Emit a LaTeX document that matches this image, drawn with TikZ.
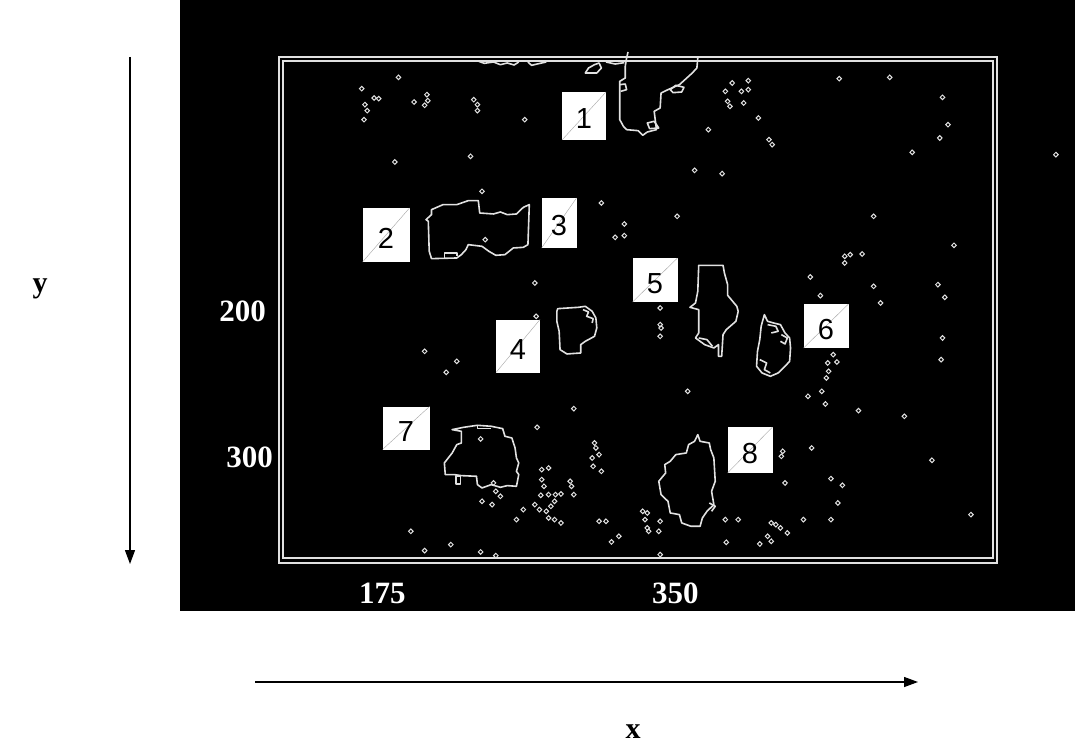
\documentclass[tikz,border=0pt]{standalone}
\usepackage{fontspec}
\setmainfont{Liberation Serif}
\newfontfamily\arialfont{Liberation Sans}
\usetikzlibrary{arrows.meta}
\definecolor{edgegrey}{RGB}{225,225,225}
\definecolor{diaggrey}{RGB}{165,165,165}
\tikzset{
  contour/.style={draw=edgegrey, line width=1.6pt, line join=round},
  framepen/.style={draw=edgegrey, line width=1.8pt},
  speck/.style={draw=edgegrey, line width=1pt},
  numbox/.style={fill=white, inner sep=0pt, text height=26pt, text depth=0pt,
    font=\arialfont\fontsize{29}{29}\selectfont,
    path picture={\draw[diaggrey, line width=0.4pt] (path picture bounding box.south west) -- (path picture bounding box.north east);}},
  ticklab/.style={text=white, font=\bfseries\fontsize{31}{31}\selectfont, inner sep=0pt},
  axislab/.style={font=\bfseries\fontsize{30}{30}\selectfont, inner sep=0pt},
  axisarrow/.style={line width=1.3pt, -{Triangle[length=14pt,width=10pt]}}
}
\begin{document}
\begin{tikzpicture}[x=1pt, y=-1pt]
\useasboundingbox (0,0) rectangle (1075,751);
\fill[black] (180,0) rectangle (1075,611);
% double frame of the image
\draw[framepen] (279,57) rectangle (997,563);
\draw[framepen] (283,61) rectangle (993,558);
% edge contours, traced on a 2.178 x 3 grid
\begin{scope}[shift={(280,58)}, x=0.4591pt, y=-0.3333pt]
% 1
\draw[contour] (758,-18) -- (755,0) -- (752,25) -- (752,60) -- (740,70) -- (740,185) -- (748,205)
  -- (755,215) -- (780,218) -- (790,232) -- (800,222) -- (820,215) -- (815,160) -- (828,150)
  -- (830,105) -- (845,95) -- (870,80) -- (898,45) -- (908,30) -- (910,0);
\draw[contour] (740,80) -- (752,78) -- (755,95) -- (742,100);
\draw[contour] (800,195) -- (815,190) -- (825,210) -- (805,212) -- cycle;
\draw[contour] (850,95) -- (862,82) -- (880,88) -- (875,102) -- (856,104) -- cycle;
\draw[contour] (433,10) -- (445,16) -- (465,12) -- (480,20) -- (495,15) -- (510,21) -- (520,12);
\draw[contour] (540,12) -- (548,22) -- (560,18) -- (580,12);
\draw[contour] (665,45) -- (672,30) -- (685,20) -- (695,15) -- (700,30) -- (690,45) -- cycle;
\draw[contour] (710,12) -- (730,18) -- (750,14);
% 2
\draw[contour] (330,455) -- (355,440) -- (385,440) -- (410,428) -- (432,428) -- (435,465) -- (465,468)
  -- (480,462) -- (495,470) -- (515,468) -- (530,448) -- (543,440) -- (540,560) -- (530,568)
  -- (508,570) -- (490,590) -- (470,592) -- (455,580) -- (440,565) -- (410,560) -- (405,575)
  -- (395,590) -- (385,600) -- (330,602) -- (325,580) -- (323,490) -- (318,485) -- (330,470) -- cycle;
\draw[contour] (358,600) -- (358,585) -- (385,585) -- (385,593);
% 4
\draw[contour] (605,752) -- (650,748) -- (665,745) -- (680,760) -- (688,780) -- (690,810) -- (685,835)
  -- (665,850) -- (655,860) -- (655,885) -- (625,888) -- (610,875) -- (608,820) -- (603,790) -- (603,760) -- cycle;
\draw[contour] (660,755) -- (672,762) -- (668,775) -- (682,782) -- (680,795);
% 5
\draw[contour] (912,622) -- (965,622) -- (968,645) -- (975,680) -- (975,712) -- (995,745) -- (998,760)
  -- (993,790) -- (972,815) -- (965,830) -- (962,895) -- (955,895) -- (955,860) -- (945,870)
  -- (925,860) -- (905,840) -- (912,825) -- (912,755) -- (893,748) -- (905,735) -- (910,700) -- cycle;
\draw[contour] (912,840) -- (930,845) -- (942,865);
% 6
\draw[contour] (1055,770) -- (1062,790) -- (1075,795) -- (1090,800) -- (1100,825) -- (1110,840)
  -- (1112,870) -- (1110,910) -- (1100,925) -- (1085,945) -- (1068,955) -- (1050,945) -- (1038,925)
  -- (1040,880) -- (1045,845) -- (1048,805) -- cycle;
\draw[contour] (1062,800) -- (1080,805) -- (1085,820) -- (1070,825);
\draw[contour] (1092,830) -- (1105,840) -- (1100,858) -- (1090,850);
\draw[contour] (1045,905) -- (1060,915) -- (1055,935) -- (1068,945);
% 7
\draw[contour] (375,1115) -- (400,1108) -- (430,1102) -- (460,1105) -- (485,1112) -- (490,1135)
  -- (505,1140) -- (512,1170) -- (515,1200) -- (520,1215) -- (515,1240) -- (520,1250) -- (515,1285)
  -- (495,1283) -- (480,1288) -- (460,1280) -- (440,1290) -- (430,1280) -- (428,1255) -- (395,1253)
  -- (380,1250) -- (360,1250) -- (358,1215) -- (375,1185) -- (385,1160) -- (395,1155) -- (395,1120) -- cycle;
\draw[contour] (383,1255) rectangle (393,1278);
\draw[contour] (430,1102) -- (430,1112) -- (460,1112);
% 8
\draw[contour] (910,1130) -- (915,1150) -- (935,1155) -- (938,1175) -- (945,1200) -- (948,1270)
  -- (940,1300) -- (945,1340) -- (930,1360) -- (920,1380) -- (915,1405) -- (895,1405) -- (875,1395)
  -- (870,1370) -- (850,1365) -- (845,1330) -- (830,1310) -- (825,1270) -- (840,1245) -- (838,1220)
  -- (850,1210) -- (862,1190) -- (885,1185) -- (890,1160) -- (903,1150) -- cycle;
\draw[contour] (935,1335) -- (948,1345) -- (940,1360);
% scattered specks
\foreach \x/\y in {258/58, 178/92, 205/120, 215/122, 185/140, 190/158, 183/185, 292/132, 320/110,
  322/128, 315/142, 422/125, 430/140, 430/158, 533/185, 250/312, 415/295, 440/400, 447/545,
  985/75, 1020/68, 970/100, 1005/100, 1020/95, 975/130, 980/145, 1010/135, 1042/180, 933/215,
  1065/245, 1072/260, 1218/62, 1328/58, 1443/118, 1455/200, 1437/240, 1377/283, 903/337, 963/347,
  700/435, 865/475, 750/498, 730/538, 750/533, 1293/475, 1468/562, 1230/595, 1242/590, 1268/588,
  1230/615, 1155/657, 1177/713, 1293/685, 1308/735, 1433/680, 1448/718, 1443/840, 1440/905,
  555/675, 558/775, 828/750, 828/800, 830/810, 828/835, 315/880, 385/910, 362/943, 888/1000,
  1205/890, 1213/912, 1193/915, 1195/940, 1190/960, 1180/1000, 1150/1015, 1188/1038, 1260/1058,
  1360/1075, 640/1052, 560/1108, 437/1143, 685/1155, 688/1170, 695/1190, 680/1200, 682/1225,
  700/1240, 570/1235, 585/1230, 570/1265, 575/1285, 632/1270, 635/1285, 640/1310, 568/1312,
  585/1310, 600/1310, 612/1308, 598/1330, 555/1340, 565/1355, 580/1360, 590/1345, 530/1355,
  515/1385, 585/1380, 598/1385, 612/1395, 440/1330, 462/1340, 480/1315, 470/1300, 465/1275,
  695/1390, 710/1390, 738/1435, 722/1452, 790/1360, 800/1365, 795/1385, 800/1410, 803/1420,
  828/1390, 825/1420, 970/1385, 998/1385, 1100/1275, 1095/1180, 1092/1195, 1158/1170,
  1200/1262, 1225/1282, 1215/1335, 1140/1385, 1200/1385, 1070/1395, 1080/1400, 1090/1410,
  1105/1425, 1062/1435, 1070/1450, 1045/1458, 972/1453, 1420/1207, 1505/1370, 285/1420,
  372/1460, 315/1478, 437/1482, 470/1493, 828/1490, 1690/290}
  \draw[speck] (\x,\y) +(-5,0) -- +(0,7) -- +(5,0) -- +(0,-7) -- cycle;
\end{scope}
% numbered markers
\node[numbox, minimum width=44pt, minimum height=48pt] (n1) at (584,116) {1};
\node[numbox, minimum width=47pt, minimum height=54pt] (n2) at (386,235) {2};
\node[numbox, minimum width=35pt, minimum height=50pt] (n3) at (559,223) {3};
\node[numbox, minimum width=44pt, minimum height=53pt] (n4) at (518,346) {4};
\node[numbox, minimum width=45pt, minimum height=44pt] (n5) at (655,280) {5};
\node[numbox, minimum width=45pt, minimum height=44pt] (n6) at (826,326) {6};
\node[numbox, minimum width=47pt, minimum height=43pt] (n7) at (406,428) {7};
\node[numbox, minimum width=45pt, minimum height=46pt] (n8) at (750,450) {8};
% scale values
\node[ticklab, anchor=base east] (t200) at (266,321) {200};
\node[ticklab, anchor=base east] (t300) at (273,467) {300};
\node[ticklab, anchor=base west] (t175) at (359,603) {175};
\node[ticklab, anchor=base west] (t350) at (652,603) {350};
% axes
\node[axislab, anchor=base] (ylab) at (40,292) {y};
\node[axislab, anchor=base] (xlab) at (633,738) {x};
\coordinate (ytop) at (130,57);
\coordinate (ybot) at (130,564);
\coordinate (xleft) at (255,682);
\coordinate (xright) at (918,682);
\draw[axisarrow] (ytop) -- (ybot);
\draw[axisarrow] (xleft) -- (xright);
\end{tikzpicture}
\end{document}
